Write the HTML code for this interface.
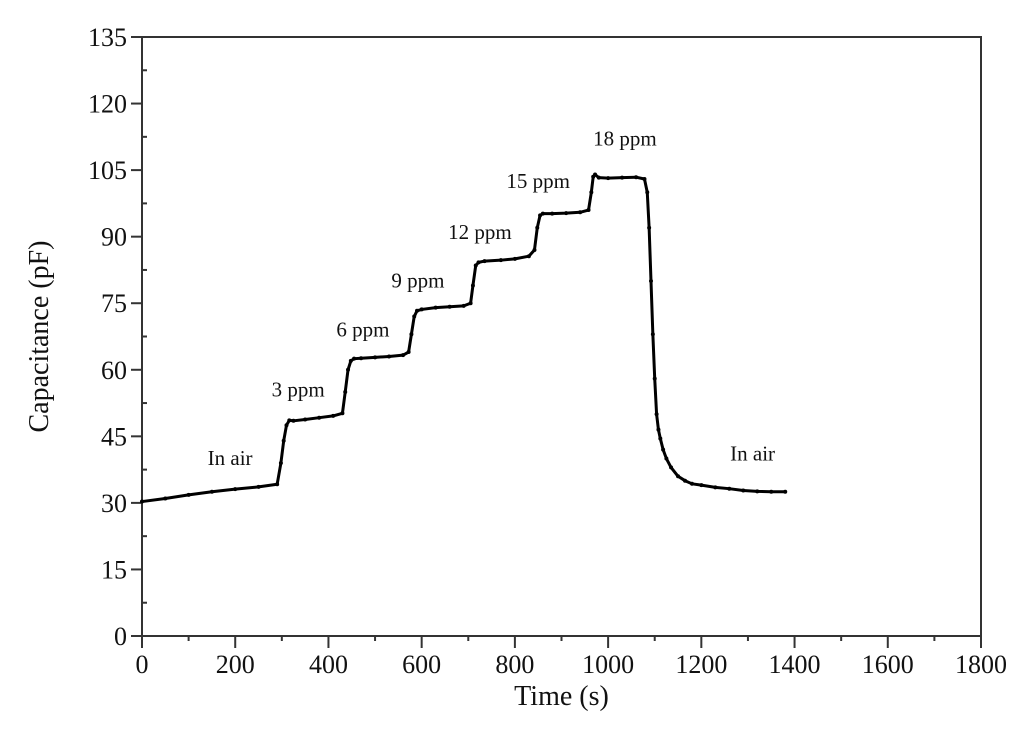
<!DOCTYPE html>
<html><head><meta charset="utf-8"><style>
html,body{margin:0;padding:0;background:#fff;}
svg{display:block;font-family:"Liberation Serif",serif;}
</style></head><body>
<svg id="chart" width="1024" height="752">
<g id="axes"></g><g id="series"></g><g id="labels"></g>
</svg>
<script>
const times = [0,50,100,150,200,250,290,298,304,310,316,325,350,380,410,430,436,442,448,455,470,500,530,560,572,578,584,590,600,630,660,690,705,710,716,722,735,770,800,830,842,848,854,860,880,910,940,958,964,968,972,980,1000,1030,1060,1078,1084,1088,1092,1096,1100,1104,1108,1112,1118,1125,1135,1150,1165,1180,1200,1230,1260,1290,1320,1350,1380];
const caps = [30.3,31,31.8,32.5,33.1,33.6,34.2,39,44,47.5,48.6,48.5,48.8,49.2,49.6,50.2,55,60,62,62.5,62.6,62.8,63,63.3,64,68,72,73.3,73.6,74,74.2,74.4,75,79,83.5,84.2,84.5,84.7,85,85.6,87,92,94.8,95.2,95.2,95.3,95.5,96,100,103.5,104,103.3,103.2,103.3,103.4,103,100,92,80,68,58,50,46.5,44.5,42,40,38,36,35,34.3,34,33.5,33.2,32.8,32.6,32.5,32.5];
const yTicks = [0,15,30,45,60,75,90,105,120,135];
const xTicks = [0,200,400,600,800,1000,1200,1400,1600,1800];
const annotations = [["In air",189,38.5],["3 ppm",335,54],["6 ppm",474,67.5],["9 ppm",592,78.5],["12 ppm",725,89.5],["15 ppm",850,101],["18 ppm",1036,110.5],["In air",1310,39.5]];

const L=142,R=981,T=37,B=636;
const xs=v=>L+v/1800*(R-L), ys=v=>B-v/135*(B-T);
const NS="http://www.w3.org/2000/svg";
function mk(tag,attrs,parent,text){const e=document.createElementNS(NS,tag);for(const k in attrs)e.setAttribute(k,attrs[k]);if(text!==undefined)e.textContent=text;parent.appendChild(e);return e;}
const ax=document.getElementById('axes'),se=document.getElementById('series'),lb=document.getElementById('labels');
let f=mk('rect',{x:L,y:T,width:R-L,height:B-T,fill:'none',stroke:'#333','stroke-width':2},ax);

yTicks.forEach((v,i)=>{
  let t=mk('line',{x1:L-11,x2:L,y1:ys(v),y2:ys(v),stroke:'#333','stroke-width':2},ax);
  
  if(i<yTicks.length-1){let m=mk('line',{x1:L,x2:L+5,y1:ys(v+7.5),y2:ys(v+7.5),stroke:'#333','stroke-width':2},ax);
  }
  let tx=mk('text',{x:L-15,y:ys(v)+9,'text-anchor':'end','font-size':26,fill:'#111'},ax,String(v));
  
});
xTicks.forEach((v,i)=>{
  let t=mk('line',{x1:xs(v),x2:xs(v),y1:B,y2:B+12,stroke:'#333','stroke-width':2},ax);
  
  if(i<xTicks.length-1){let m=mk('line',{x1:xs(v+100),x2:xs(v+100),y1:B,y2:B+5,stroke:'#333','stroke-width':2},ax);
  }
  let tx=mk('text',{x:xs(v),y:B+37,'text-anchor':'middle','font-size':26,fill:'#111'},ax,String(v));
  
});
let xt=mk('text',{x:(L+R)/2,y:705,'text-anchor':'middle','font-size':28,fill:'#111'},ax,'Time (s)');

let yt=mk('text',{x:0,y:0,'text-anchor':'middle','font-size':28,fill:'#111',transform:`translate(48,${(T+B)/2}) rotate(-90)`},ax,'Capacitance (pF)');

let pts=times.map((t,i)=>xs(t)+','+ys(caps[i])).join(' ');
let pl=mk('polyline',{points:pts,fill:'none',stroke:'#000','stroke-width':3,'stroke-linejoin':'round'},se);

times.forEach((t,i)=>{let c=mk('circle',{cx:xs(t),cy:ys(caps[i]),r:2,fill:'#000'},se);
});
annotations.forEach(a=>{let tx=mk('text',{x:xs(a[1]),y:ys(a[2]),'text-anchor':'middle','font-size':21,fill:'#111'},lb,a[0]);
});
</script>
</body></html>
